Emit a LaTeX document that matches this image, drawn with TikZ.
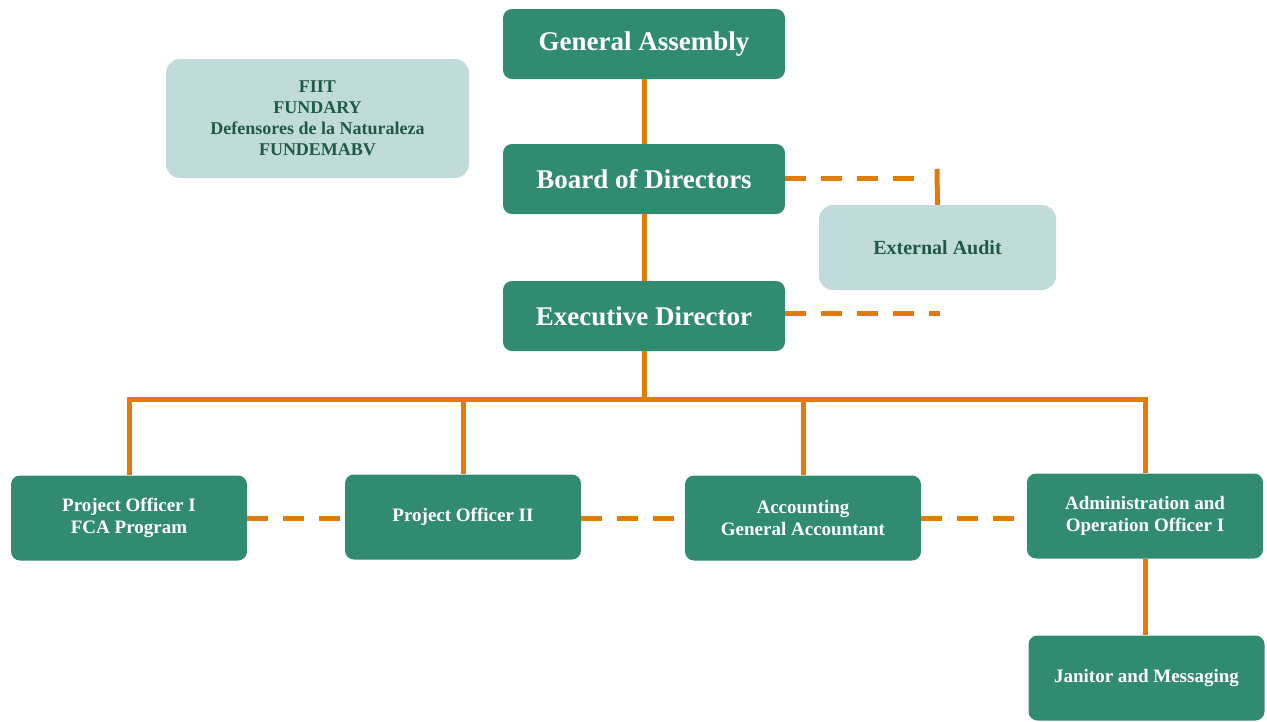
\documentclass[tikz,border=0pt]{standalone}
\usepackage{fontspec}
\setmainfont{Liberation Serif}
\usetikzlibrary{positioning}
\definecolor{boxgreen}{HTML}{318B70}
\definecolor{boxlight}{HTML}{C0DBD9}
\definecolor{textdark}{HTML}{1F5A47}
\definecolor{lineorange}{HTML}{E07B0C}
\begin{document}
\begin{tikzpicture}[x=1pt,y=-1pt,line join=miter,
	topbox/.style={fill=boxgreen,rounded corners=9pt,text=white,font=\bfseries\fontsize{27}{32}\selectfont,minimum width=282pt,minimum height=70pt,inner sep=0pt},
	staffbox/.style={fill=boxgreen,rounded corners=9pt,text=white,font=\bfseries\fontsize{19}{22}\selectfont,align=center,minimum width=236pt,minimum height=85pt,inner sep=0pt},
	sidebox/.style={fill=boxlight,rounded corners=14pt,text=textdark,align=center,inner sep=0pt},
	solidlink/.style={draw=lineorange,line width=5pt},
	dashlink/.style={draw=lineorange,line width=5pt,dash pattern=on 21pt off 15pt}]
	\useasboundingbox (0,0) rectangle (1267,721);
	% top of the chart
	\node[topbox] (ga) at (644,44) {General Assembly};
	\node[topbox] (board) at (644,179) {Board of Directors};
	\node[topbox] (exec) at (644,316) {Executive Director};
	\node[sidebox,font=\bfseries\fontsize{18}{21}\selectfont,minimum width=303pt,minimum height=119pt] (members) at (317.5,118.5) {FIIT\\FUNDARY\\Defensores de la Naturaleza\\FUNDEMABV};
	\node[sidebox,font=\bfseries\fontsize{20}{24}\selectfont,minimum width=237pt,minimum height=85pt] (audit) at (937.5,247.5) {External Audit};
	% staff row
	\node[staffbox] (po1) at (129,518) {Project Officer I\\FCA Program};
	\node[staffbox] (po2) at (463,517) {Project Officer II};
	\node[staffbox] (acc) at (803,518) {Accounting\\General Accountant};
	\node[staffbox] (admin) at (1145,516) {Administration and\\Operation Officer I};
	\node[staffbox] (janitor) at (1146.5,678) {Janitor and Messaging};
	\coordinate (bus) at (644,399);
	\coordinate (auditcorner) at (937,178);
	\coordinate (auditend) at (940,313);
	% links
	\draw[solidlink] (ga) -- (board);
	\draw[solidlink] (board) -- (exec);
	\draw[solidlink] (exec.south) -- (bus);
	\draw[solidlink] (po1.north) |- (bus) -| (admin.north);
	\foreach \n in {po2,acc}{
		\draw[solidlink] (\n.north) -- (\n.north |- bus);
	}
	\draw[solidlink] (admin.south) -- (admin.south |- janitor.north);
	\draw[dashlink] (board.east |- auditcorner) -- ([xshift=-14pt]auditcorner);
	\draw[solidlink] ([yshift=9pt]auditcorner) -- (audit.north);
	\draw[dashlink] (exec.east |- auditend) -- (auditend);
	\draw[dashlink] (po1.east |- 0,518) -- (po2.west |- 0,518);
	\draw[dashlink] (po2.east |- 0,518) -- (acc.west |- 0,518);
	\draw[dashlink] (acc.east |- 0,518) -- (admin.west |- 0,518);
\end{tikzpicture}
\end{document}
